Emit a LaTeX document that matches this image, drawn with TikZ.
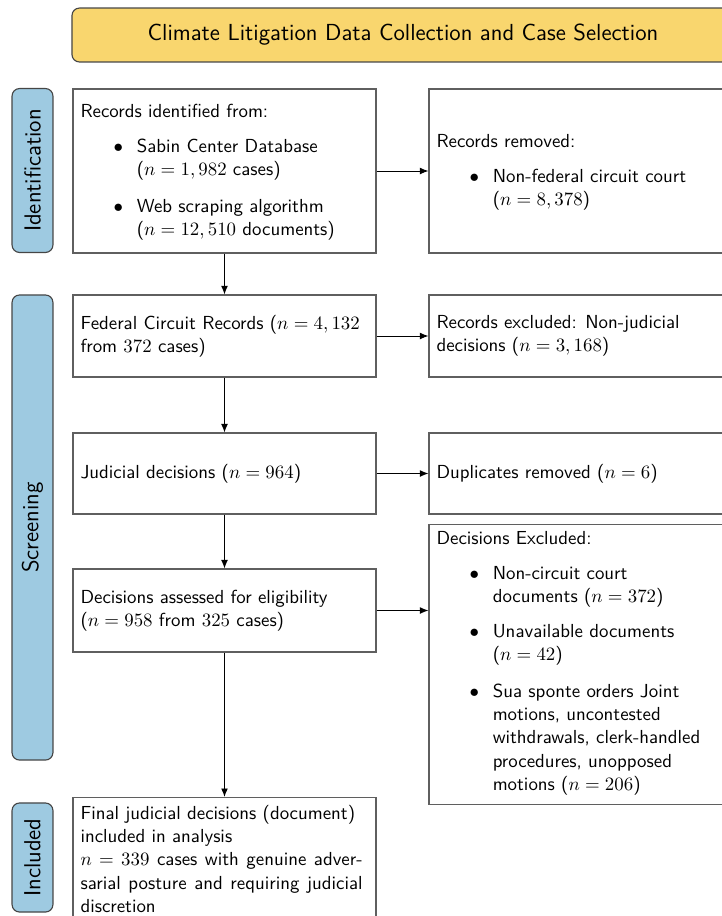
\documentclass[tikz,border=0pt]{standalone}
\usetikzlibrary{arrows.meta}
\definecolor{titleyellow}{RGB}{249,214,110}
\definecolor{sideblue}{RGB}{158,202,225}
\definecolor{boxgray}{RGB}{95,95,95}
\definecolor{edgegray}{RGB}{70,70,70}
\newcommand{\bitem}[1]{\par\setlength{\lineskip}{0pt}\vspace{6pt}\noindent\hspace*{17.5pt}\makebox[12.3pt][l]{$\bullet$}\parbox[t]{122.8pt}{\raggedright\strut #1\strut}}
\newcommand{\topstrut}{\rule{0pt}{9.5pt}}
\tikzset{
  box/.style={draw=boxgray, line width=0.6pt, inner xsep=4pt, inner ysep=4pt,
    text width=152.6pt, align=flush left, font=\sffamily\fontsize{10}{12.35}\selectfont},
  titlebox/.style={draw=edgegray, line width=0.6pt, fill=titleyellow, rounded corners=4pt,
    minimum width=350.9pt, minimum height=28.6pt, font=\sffamily\fontsize{12.3}{15}\selectfont},
  sidebox/.style={draw=edgegray, line width=0.6pt, fill=sideblue, rounded corners=4pt,
    rotate=90, minimum height=21.7pt, font=\sffamily\fontsize{12.3}{15}\selectfont, inner sep=0pt},
  arr/.style={-{Latex[length=4.5pt,width=3.6pt]}, line width=0.5pt, black}
}
\begin{document}
\begin{tikzpicture}[x=0.53pt, y=-0.53pt]
\useasboundingbox (0,0) rectangle (722,916);

\node[titlebox] (title) at (403,35) {Climate Litigation Data Collection and Case Selection};

\node[sidebox, minimum width=86.9pt] (sid) at (32.5,170.5) {Identification};
\node[sidebox, minimum width=246.5pt] (sscr) at (32.5,527.5) {Screening};
\node[sidebox, minimum width=57.8pt] (sinc) at (32.5,857.5) {Included};

\node[box, minimum height=86.9pt] (L1) at (224.5,171) {\topstrut Records identified from:
\bitem{Sabin Center Database\\ ($n = 1,982$ cases)}
\bitem{Web scraping algorithm\\ ($n = 12,510$ documents)}};

\node[box, minimum height=86.9pt] (R1) at (580.5,171) {\topstrut Records removed:
\bitem{Non-federal circuit court\\ ($n = 8,378$)}};

\node[box, minimum height=43.5pt] (L2) at (224.5,336) {\mbox{Federal Circuit Records ($n = 4,132$}\\ from $372$ cases)};
\node[box, minimum height=43.5pt] (R2) at (580.5,336) {Records excluded: Non-judicial\\ decisions ($n = 3,168$)};

\node[box, minimum height=42.9pt] (L3) at (224.5,473.5) {Judicial decisions ($n = 964$)};
\node[box, minimum height=42.9pt] (R3) at (580.5,473.5) {Duplicates removed ($n = 6$)};

\node[box, minimum height=44pt] (L4) at (224.5,610.5) {Decisions assessed for eligibility\\ ($n = 958$ from $325$ cases)};
\node[box, minimum height=146.8pt] (R4) at (580.5,664.5) {Decisions Excluded:
\bitem{Non-circuit court\\ documents ($n = 372$)}
\bitem{Unavailable documents\\ ($n = 42$)}
\bitem{Sua sponte orders Joint\\ motions, uncontested\\ \mbox{withdrawals, clerk-handled}\\ procedures, unopposed\\ motions ($n = 206$)}};

\node[box, anchor=north] (L5) at (224.5,797) {\parbox{149.5pt}{Final judicial decisions (document)\\ included in analysis\\ $n = 339$ cases with genuine adver-\linebreak sarial posture and requiring judicial\linebreak discretion}};

\draw[arr] (L1) -- (R1);
\draw[arr] (L2) -- (R2);
\draw[arr] (L3) -- (R3);
\draw[arr] (L4.east) -- (L4.east -| R4.west);
\draw[arr] (L1) -- (L2);
\draw[arr] (L2) -- (L3);
\draw[arr] (L3) -- (L4);
\draw[arr] (L4) -- (L5);
\end{tikzpicture}
\end{document}
